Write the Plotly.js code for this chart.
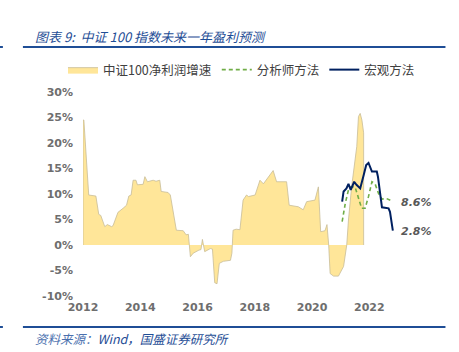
<!DOCTYPE html>
<html><head><meta charset="utf-8">
<script src="https://cdn.plot.ly/plotly-3.0.1.min.js"></script>
<style>html,body{margin:0;padding:0;background:#fff}#chart{width:459px;height:352px}</style>
</head><body><div id="chart"></div>
<script>
// 中证100净利润增速 (%)
const netYears = [2012.0,2012.03,2012.2,2012.45,2012.55,2012.62,2012.76,2012.85,2013.0,2013.05,2013.22,2013.4,2013.52,2013.6,2013.68,2013.75,2013.85,2013.9,2014.1,2014.16,2014.25,2014.45,2014.55,2014.68,2014.73,2014.97,2015.05,2015.26,2015.5,2015.6,2015.68,2015.75,2015.85,2016.05,2016.12,2016.17,2016.25,2016.45,2016.52,2016.6,2016.68,2016.76,2016.9,2017.15,2017.2,2017.24,2017.35,2017.48,2017.59,2017.71,2017.78,2018.01,2018.18,2018.3,2018.64,2018.76,2019.11,2019.2,2019.52,2019.69,2019.81,2020.1,2020.22,2020.3,2020.45,2020.52,2020.58,2020.63,2020.75,2020.92,2021.1,2021.21,2021.27,2021.38,2021.56,2021.62,2021.68,2021.74,2021.8];
const netGrowth = [24.5,24.5,9.8,9.6,6.0,5.8,3.6,4.0,3.6,3.8,6.4,7.2,7.8,9.6,9.8,12.7,12.7,11.8,11.9,13.4,12.4,12.7,12.5,12.7,10.5,10.3,9.8,2.9,2.8,2.0,2.1,-2.3,-1.6,-1.0,-0.9,1.1,-1.3,-0.7,-0.8,-7.4,-7.6,-3.6,-3.2,-3.0,-1.6,2.9,3.1,3.0,8.8,9.8,9.5,9.8,12.7,12.0,14.6,12.4,12.4,7.8,7.5,6.9,8.5,8.8,11.4,2.6,2.8,4.0,0,-5.6,-6.1,-6.1,-4.2,0,4.9,11.4,19.3,25.2,25.8,24.5,22.0];
// 分析师方法 (%)
const analystYears = [2021.05,2021.16,2021.27,2021.35,2021.5,2021.62,2021.73,2021.85,2021.97,2022.09,2022.2,2022.32,2022.44,2022.6,2022.79];
const analystVals = [4.6,8.2,10.8,11.4,11.4,9.2,7.2,7.2,9.5,12.4,12.0,10.1,9.0,9.1,8.6];
// 宏观方法 (%)
const macroYears = [2021.05,2021.1,2021.2,2021.27,2021.35,2021.47,2021.55,2021.68,2021.8,2021.89,2021.97,2022.09,2022.26,2022.3,2022.44,2022.6,2022.67,2022.72,2022.82];
const macroVals = [8.5,10.5,11.1,12.0,10.8,12.4,11.8,11.1,13.7,15.7,16.1,14.4,14.4,13.4,7.4,7.3,7.2,6.5,2.8];
const xTicks = [2012,2014,2016,2018,2020,2022];
const yTicks = [-10,-5,0,5,10,15,20,25,30];
const yTickLabels = yTicks.map(v => v + '%');
const endLabels = ['8.6%','2.8%'];
const endLabelVals = [8.6,2.8];
const seriesNames = ['中证100净利润增速','分析师方法','宏观方法'];

const areaX = [netYears[0]].concat(netYears, [netYears[netYears.length-1]]);
const areaY = [0].concat(netGrowth, [0]);

const traces = [
  {x: areaX, y: areaY, type:'scatter', mode:'lines', fill:'toself', fillcolor:'#FFE699',
   line:{color:'#C8BC98', width:0.8}, name: seriesNames[0]},
  {x: analystYears, y: analystVals, type:'scatter', mode:'lines',
   line:{color:'#70AD47', width:1.6, dash:'4px,3px'}, name: seriesNames[1]},
  {x: macroYears, y: macroVals, type:'scatter', mode:'lines',
   line:{color:'#002060', width:2}, name: seriesNames[2]}
];

const W=459,H=352,L=83,R=459-397.6,T=92,B=56;
const pw=W-L-R, ph=H-T-B;
const px = p => (p-L)/pw;
const py = p => (H-B-p)/ph;
const blue='#1F4E96';
const tickFont={family:'DejaVu Sans', size:11, color:'#6E6E6E', weight:700};

const layout = {
  width:W, height:H, margin:{l:L,r:R,t:T,b:B}, paper_bgcolor:'#fff', plot_bgcolor:'#fff',
  showlegend:true,
  legend:{orientation:'h', x:px(63), xanchor:'left', y:py(70), yanchor:'middle',
    font:{family:'Noto Sans CJK SC', size:12.5, color:'#404040'}, bgcolor:'rgba(0,0,0,0)', traceorder:'normal'},
  xaxis:{range:[2012,2023], tickvals:xTicks, ticktext:xTicks.map(String), showgrid:false, zeroline:false,
    showline:false, ticks:'', tickfont:tickFont, ticklabelstandoff:3},
  yaxis:{range:[-10,30], tickvals:yTicks, ticktext:yTickLabels, showgrid:false, zeroline:false,
    showline:false, ticks:'', tickfont:tickFont, ticklabelstandoff:9},
  annotations:[
    {xref:'paper', yref:'paper', x:px(33), y:py(36), xanchor:'left', yanchor:'middle', showarrow:false,
     text:'图表 9:  中证 100 指数未来一年盈利预测', font:{family:'Noto Sans CJK SC', size:13, color:blue, style:'italic'}},
    {xref:'paper', yref:'paper', x:px(33), y:py(338), xanchor:'left', yanchor:'middle', showarrow:false,
     text:'<span style="color:#4A6FAE">资料来源：</span>Wind，国盛证券研究所', font:{family:'Noto Sans CJK SC', size:12.5, color:blue, style:'italic'}},
    {xref:'paper', yref:'y', x:px(399), y:endLabelVals[0], yshift:-1, xanchor:'left', yanchor:'middle', showarrow:false,
     text:endLabels[0], font:{family:'DejaVu Sans', size:11, color:'#595959', weight:700, style:'italic'}},
    {xref:'paper', yref:'y', x:px(399), y:endLabelVals[1], yshift:-1, xanchor:'left', yanchor:'middle', showarrow:false,
     text:endLabels[1], font:{family:'DejaVu Sans', size:11, color:'#595959', weight:700, style:'italic'}}
  ],
  shapes:[
    {type:'line', xref:'paper', yref:'paper', x0:px(23), x1:px(445), y0:py(47), y1:py(47), line:{color:blue, width:2}},
    {type:'line', xref:'paper', yref:'paper', x0:px(0), x1:px(3), y0:py(47), y1:py(47), line:{color:blue, width:2}},
    {type:'line', xref:'paper', yref:'paper', x0:px(23), x1:px(445), y0:py(327), y1:py(327), line:{color:blue, width:2}},
    {type:'line', xref:'paper', yref:'paper', x0:px(0), x1:px(3), y0:py(327), y1:py(327), line:{color:blue, width:2}}
  ]
};
Plotly.newPlot('chart', traces, layout, {displayModeBar:false, staticPlot:true});
</script></body></html>
